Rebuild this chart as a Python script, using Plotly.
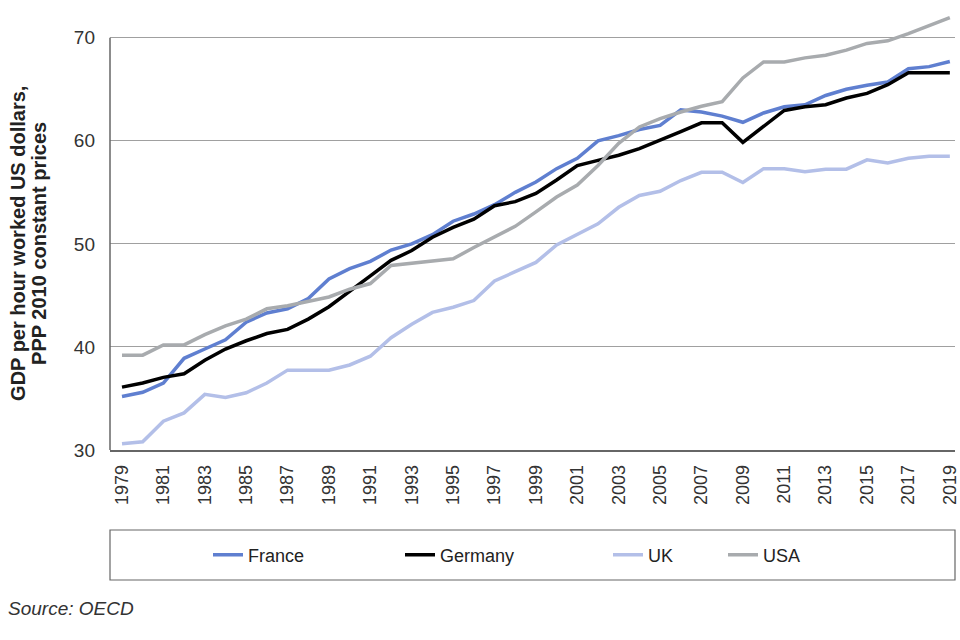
import plotly.graph_objects as go

years = list(range(1979, 2020))
france = [35.2, 35.6, 36.5, 38.9, 39.8, 40.7, 42.4, 43.3, 43.7, 44.7,
          46.6, 47.6, 48.3, 49.4, 50.0, 50.9, 52.2, 52.9, 53.8, 55.0,
          56.0, 57.3, 58.3, 60.0, 60.5, 61.1, 61.5, 63.0, 62.8, 62.4,
          61.8, 62.7, 63.3, 63.5, 64.4, 65.0, 65.4, 65.7, 67.0, 67.2, 67.7]
germany = [36.1, 36.5, 37.05, 37.4, 38.7, 39.8, 40.6, 41.3, 41.7, 42.7,
           43.9, 45.45, 46.9, 48.4, 49.35, 50.65, 51.6, 52.4, 53.7, 54.1,
           54.9, 56.2, 57.6, 58.1, 58.6, 59.25, 60.05, 60.9, 61.75, 61.75,
           59.85, 61.4, 62.95, 63.3, 63.5, 64.15, 64.6, 65.45, 66.6, 66.6, 66.6]
uk = [30.6, 30.8, 32.8, 33.6, 35.4, 35.1, 35.55, 36.5, 37.75, 37.75,
      37.75, 38.25, 39.1, 40.9, 42.2, 43.35, 43.85, 44.5, 46.4, 47.3,
      48.2, 49.9, 50.95, 51.95, 53.55, 54.7, 55.1, 56.15, 56.95, 56.95,
      55.95, 57.3, 57.3, 57.0, 57.25, 57.25, 58.15, 57.85, 58.3, 58.5, 58.5]
usa = [39.2, 39.2, 40.2, 40.2, 41.2, 42.05, 42.7, 43.7, 44.0, 44.4,
       44.85, 45.6, 46.15, 47.9, 48.1, 48.3, 48.55, 49.65, 50.65, 51.7,
       53.1, 54.55, 55.7, 57.6, 59.75, 61.35, 62.15, 62.8, 63.35, 63.8,
       66.1, 67.65, 67.65, 68.05, 68.3, 68.8, 69.45, 69.7, 70.4, 71.2, 71.95]

series_names = ["France", "Germany", "UK", "USA"]
series_values = [france, germany, uk, usa]
series_colors = ["#5f7fd0", "#000000", "#b3bfe8", "#a8abae"]
legend_ids = ["legend", "legend2", "legend3", "legend4"]
legend_x_px = [208, 400, 608, 723]

y_ticks = [30, 40, 50, 60, 70]
x_ticks = list(range(1979, 2020, 2))
y_title_lines = ["GDP per hour worked US dollars,", "PPP 2010 constant prices"]

FONT = "Liberation Sans, Arial, sans-serif"
W, H = 960, 640
ML, MR, MT, MB = 110, 5, 12, 190
plot_w = W - ML - MR
plot_h = H - MT - MB

fig = go.Figure()
for name, vals, col, lg in zip(series_names, series_values, series_colors, legend_ids):
    fig.add_trace(go.Scatter(x=years, y=vals, mode="lines", name=name,
                             line=dict(color=col, width=3.5), legend=lg))

def px_to_paper_x(px):
    return (px - ML) / plot_w

def py_to_paper_y(py):
    return (H - MB - py) / plot_h

legend_common = dict(orientation="h", yanchor="middle", xanchor="left",
                     y=py_to_paper_y(555), bgcolor="rgba(0,0,0,0)",
                     font=dict(family=FONT, size=18, color="#222222"))
layout_legends = {}
for lg, lx in zip(legend_ids, legend_x_px):
    layout_legends[lg] = dict(legend_common, x=px_to_paper_x(lx))

title_annots = []
for txt, cx in zip(y_title_lines, [18, 39]):
    title_annots.append(dict(
        text="<b>" + txt + "</b>", xref="paper", yref="y",
        x=px_to_paper_x(cx), y=50, xanchor="center", yanchor="middle",
        textangle=-90, showarrow=False,
        font=dict(family=FONT, size=20, color="#222222")))

fig.update_layout(
    width=W, height=H,
    margin=dict(l=ML, r=MR, t=MT, b=MB, autoexpand=False),
    paper_bgcolor="white", plot_bgcolor="white",
    font=dict(family=FONT, size=18, color="#333333"),
    showlegend=True,
    **layout_legends,
    xaxis=dict(range=[1978.42, 2019.25], tickvals=x_ticks,
               ticktext=[str(v) for v in x_ticks], tickangle=-90,
               showgrid=False, zeroline=False, showline=True,
               linecolor="#666666", linewidth=1.5, ticks="",
               ticklabelstandoff=6, automargin=False,
               tickfont=dict(family=FONT, size=18, color="#333333")),
    yaxis=dict(range=[30, 72.5], tickvals=y_ticks,
               showgrid=True, gridcolor="#a0a0a0", gridwidth=1,
               zeroline=False, showline=False, ticks="",
               ticklabelstandoff=14, automargin=False,
               tickfont=dict(family=FONT, size=19, color="#333333")),
    shapes=[
        dict(type="line", xref="paper", yref="y", x0=0, x1=0, y0=30, y1=70,
             line=dict(color="#666666", width=1.5)),
        dict(type="rect", xref="paper", yref="paper",
             x0=0, x1=1, y0=py_to_paper_y(580), y1=py_to_paper_y(530),
             line=dict(color="#666666", width=1.2), fillcolor="rgba(0,0,0,0)"),
    ],
    annotations=title_annots + [
        dict(text="<i>Source: OECD</i>", xref="paper", yref="paper",
             x=px_to_paper_x(6), y=py_to_paper_y(608), xanchor="left",
             yanchor="middle", showarrow=False,
             font=dict(family=FONT, size=19, color="#333333")),
    ],
)

fig.write_html("out.html", config={"displayModeBar": False},
               post_script="document.body.style.margin='0';document.body.style.overflow='hidden';")
